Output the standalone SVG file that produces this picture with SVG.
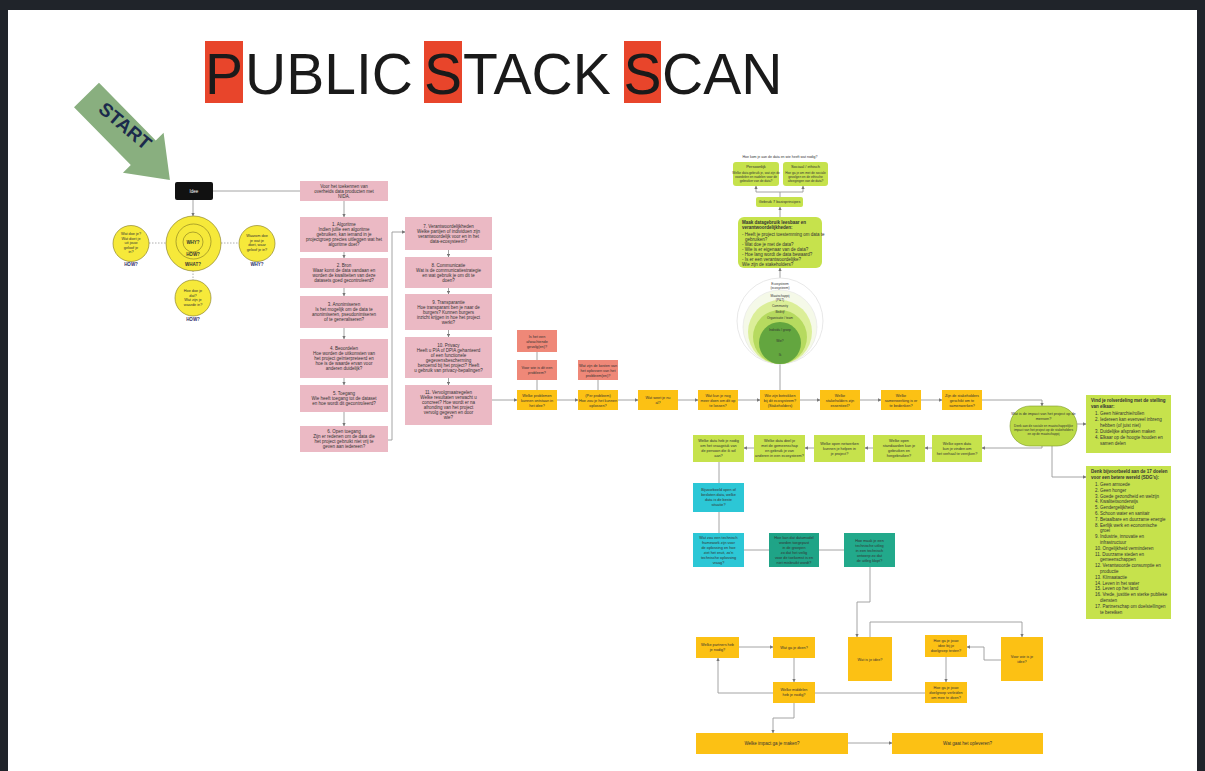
<svg xmlns="http://www.w3.org/2000/svg" width="1205" height="771" viewBox="0 0 1205 771">
<style>
.t{font-family:"Liberation Sans",Arial,sans-serif;font-size:4.5px;fill:#333;text-anchor:middle}
.sm{font-size:3.8px}
.s{text-anchor:start}
.b{font-weight:bold}
.pk{fill:#ebb9c4}
.sal{fill:#ef8878}
.yl{fill:#fcc114}
.gr{fill:#c6e24c}
.cy{fill:#2cc7d6}
.tl{fill:#1fa487}
.c{stroke:#9a9a9a;stroke-width:0.9;fill:none}
.ca{stroke:#9a9a9a;stroke-width:0.9;fill:none;marker-end:url(#a)}
.d{stroke:#999;stroke-width:0.8;fill:none;stroke-dasharray:1.5 1.5}
.yc{fill:#f6e93a;stroke:#7d7620;stroke-width:0.6}
.title{font-family:"Liberation Sans",Arial,sans-serif;font-size:57px;fill:#1a1a1a}
.lbl{font-family:"Liberation Sans",Arial,sans-serif;font-size:4.5px;fill:#2b2b6b;text-anchor:middle;font-weight:bold}
</style>
<defs>
<marker id="a" viewBox="0 0 6 6" refX="5.5" refY="3" markerWidth="4" markerHeight="4" orient="auto"><path d="M0,0 L6,3 L0,6z" fill="#777"/></marker>
</defs>
<rect width="1205" height="771" fill="#fff"/>
<rect x="0" y="0" width="1205" height="10" fill="#20242a"/>
<rect x="0" y="0" width="8" height="771" fill="#20242a"/>
<rect x="1197" y="0" width="8" height="771" fill="#20242a"/>

<g id="title">
<rect x="205" y="41" width="38" height="62" fill="#e8452b"/>
<rect x="424" y="41" width="38" height="62" fill="#e8452b"/>
<rect x="624" y="41" width="37" height="62" fill="#e8452b"/>
<text class="title" x="224" y="94" text-anchor="middle">P</text>
<text class="title" x="245" y="94">UBLIC</text>
<text class="title" x="443" y="94" text-anchor="middle">S</text>
<text class="title" x="463" y="94">TACK</text>
<text class="title" x="642.5" y="94" text-anchor="middle">S</text>
<text class="title" x="662" y="94">CAN</text>
</g>

<g id="start">
<path transform="translate(86.5,95) rotate(45.5)" d="M0,-17.5 H81 V-28.5 L119,0 L81,28.5 V17.5 H0 Z" fill="#89af7f"/>
<text transform="translate(121,131) rotate(40)" font-family="Liberation Sans,Arial,sans-serif" font-size="19" font-weight="bold" fill="#1b2a4c" text-anchor="middle">START</text>
</g>

<g id="connectors">
<path class="c" d="M213,191 H300"/>
<path class="ca" d="M193,200 V216"/>
<path class="d" d="M149,243 H166"/>
<path class="d" d="M221,243 H239"/>
<path class="d" d="M193,270.5 V280"/>
<path class="ca" d="M344,201 V217"/>
<path class="ca" d="M344,252 V258"/>
<path class="ca" d="M344,288 V296"/>
<path class="ca" d="M344,328 V339"/>
<path class="ca" d="M344,378 V385"/>
<path class="ca" d="M344,412 V426"/>
<path class="ca" d="M388,440 H392 V232 H405"/>
<path class="ca" d="M448.5,250 V257"/>
<path class="ca" d="M448.5,288 V294"/>
<path class="ca" d="M448.5,330 V337"/>
<path class="ca" d="M448.5,378 V385"/>
<path class="ca" d="M492,400 H517"/>
<path class="ca" d="M557,400 H578"/>
<path class="ca" d="M618,400 H638"/>
<path class="ca" d="M678,400 H698"/>
<path class="ca" d="M738,400 H760"/>
<path class="ca" d="M800,400 H820"/>
<path class="ca" d="M860,400 H881"/>
<path class="ca" d="M921,400 H942"/>
<path class="ca" d="M982,400 H1042 V406"/>
<path class="c" d="M537,390 V380"/>
<path class="c" d="M537,360 V352"/>
<path class="c" d="M598,390 V380"/>
<path class="c" d="M780,390 V364"/>
<path class="ca" d="M780,278 V268"/>
<path class="ca" d="M780,217 V207"/>
<path class="c" d="M780,197 V192 M756,192 H803"/>
<path class="ca" d="M756,192 V186"/>
<path class="ca" d="M803,192 V186"/>
<path class="ca" d="M1077,424 H1086"/>
<path class="ca" d="M1052,446 V477 H1086"/>
<path class="ca" d="M1042,446 V448 H982"/>
<path class="ca" d="M932,448 H925"/>
<path class="ca" d="M873,448 H865"/>
<path class="ca" d="M814,448 H805"/>
<path class="ca" d="M754,448 H744"/>
<path class="c" d="M719,462 V483"/>
<path class="c" d="M719,512 V533"/>
<path class="c" d="M744,550 H769"/>
<path class="c" d="M819,550 H844"/>
<path class="ca" d="M870,567 V602 H857 V637"/>
<path class="ca" d="M870,637 V622 H1022 V637"/>
<path class="ca" d="M1001,660 H984 V647 H967"/>
<path class="ca" d="M946,657 V682"/>
<path class="ca" d="M739,647 H773"/>
<path class="ca" d="M794,658 V682"/>
<path class="ca" d="M773,693 H718 V658"/>
<path class="c" d="M925,693 H815"/>
<path class="ca" d="M794,703 V718 H773 V733"/>
<path class="ca" d="M848,743 H892"/>
</g>

<g id="idee">
<rect x="175" y="182" width="38" height="18" rx="2" fill="#111"/>
<text class="t" x="194" y="192.5" style="fill:#fff">Idee</text>
</g>

<g id="golden-circle">
<circle class="yc" cx="193.5" cy="243.5" r="27.5"/>
<circle class="yc" cx="193.5" cy="241.5" r="17.5"/>
<circle class="yc" cx="193" cy="242" r="10"/>
<text class="t b" x="193" y="244">WHY?</text>
<text class="t b" x="193" y="256">HOW?</text>
<text class="t b" x="193" y="266">WHAT?</text>
</g>
<g id="circle-left">
<circle class="yc" cx="131" cy="243.5" r="18"/>
<text class="t sm"><tspan x="131" y="235">Wat doe je?</tspan><tspan x="131" dy="4.5">Wat doet je</tspan><tspan x="131" dy="4.5">uit jouw</tspan><tspan x="131" dy="4.5">geloof je</tspan><tspan x="131" dy="4.5">in?</tspan></text>
<text class="lbl" x="131" y="266">HOW?</text>
</g>
<g id="circle-right">
<circle class="yc" cx="257" cy="243.5" r="18"/>
<text class="t sm"><tspan x="257" y="237">Waarom doe</tspan><tspan x="257" dy="4.5">je wat je</tspan><tspan x="257" dy="4.5">doet, waar</tspan><tspan x="257" dy="4.5">geloof je in?</tspan></text>
<text class="lbl" x="257" y="266">WHY?</text>
</g>
<g id="circle-bottom">
<circle class="yc" cx="193" cy="298" r="18"/>
<text class="t sm"><tspan x="193" y="292">Hoe doe je</tspan><tspan x="193" dy="4.5">dat?</tspan><tspan x="193" dy="4.5">Wat zijn je</tspan><tspan x="193" dy="4.5">waarde in?</tspan></text>
<text class="lbl" x="193" y="321">HOW?</text>
</g>

<g id="p0"><rect class="pk" x="300" y="181" width="88" height="20"/>
<text class="t"><tspan x="344" y="187.5">Voor het toekennen van</tspan><tspan x="344" dy="5">overheids data producten met</tspan><tspan x="344" dy="5">NIDA.</tspan></text></g>
<g id="p1"><rect class="pk" x="300" y="217" width="88" height="35"/>
<text class="t"><tspan x="344" y="226">1. Algoritme</tspan><tspan x="344" dy="5">Indien jullie een algoritme</tspan><tspan x="344" dy="5">gebruiken, kan iemand in je</tspan><tspan x="344" dy="5">projectgroep precies uitleggen wat het</tspan><tspan x="344" dy="5">algoritme doet?</tspan></text></g>
<g id="p2"><rect class="pk" x="300" y="258" width="88" height="30"/>
<text class="t"><tspan x="344" y="267">2. Bron</tspan><tspan x="344" dy="5">Waar komt de data vandaan en</tspan><tspan x="344" dy="5">worden de kwaliteiten van deze</tspan><tspan x="344" dy="5">datasets goed gecontroleerd?</tspan></text></g>
<g id="p3"><rect class="pk" x="300" y="296" width="88" height="32"/>
<text class="t"><tspan x="344" y="306">3. Anonimiseren</tspan><tspan x="344" dy="5">Is het mogelijk om de data te</tspan><tspan x="344" dy="5">anonimiseren, pseudonimiseren</tspan><tspan x="344" dy="5">of te generaliseren?</tspan></text></g>
<g id="p4"><rect class="pk" x="300" y="339" width="88" height="39"/>
<text class="t"><tspan x="344" y="350">4. Beoordelen</tspan><tspan x="344" dy="5">Hoe worden de uitkomsten van</tspan><tspan x="344" dy="5">het project geïnterpreteerd en</tspan><tspan x="344" dy="5">hoe is de waarde ervan voor</tspan><tspan x="344" dy="5">anderen duidelijk?</tspan></text></g>
<g id="p5"><rect class="pk" x="300" y="385" width="88" height="27"/>
<text class="t"><tspan x="344" y="395">5. Toegang</tspan><tspan x="344" dy="5">Wie heeft toegang tot de dataset</tspan><tspan x="344" dy="5">en hoe wordt dit gecontroleerd?</tspan></text></g>
<g id="p6"><rect class="pk" x="300" y="426" width="88" height="26"/>
<text class="t"><tspan x="344" y="433">6. Open toegang</tspan><tspan x="344" dy="5">Zijn er redenen om de data die</tspan><tspan x="344" dy="5">het project gebruikt niet vrij te</tspan><tspan x="344" dy="5">geven aan iedereen?</tspan></text></g>

<g id="p7"><rect class="pk" x="405" y="217" width="87" height="33"/>
<text class="t"><tspan x="448.5" y="227.5">7. Verantwoordelijkheden</tspan><tspan x="448.5" dy="5">Welke partijen of individuen zijn</tspan><tspan x="448.5" dy="5">verantwoordelijk voor en in het</tspan><tspan x="448.5" dy="5">data-ecosysteem?</tspan></text></g>
<g id="p8"><rect class="pk" x="405" y="257" width="87" height="31"/>
<text class="t"><tspan x="448.5" y="266.5">8. Communicatie</tspan><tspan x="448.5" dy="5">Wat is de communicatiestrategie</tspan><tspan x="448.5" dy="5">en wat gebruik je om dit te</tspan><tspan x="448.5" dy="5">doen?</tspan></text></g>
<g id="p9"><rect class="pk" x="405" y="294" width="87" height="36"/>
<text class="t"><tspan x="448.5" y="303.5">9. Transparantie</tspan><tspan x="448.5" dy="5">Hoe transparant ben je naar de</tspan><tspan x="448.5" dy="5">burgers? Kunnen burgers</tspan><tspan x="448.5" dy="5">inzicht krijgen in hoe het project</tspan><tspan x="448.5" dy="5">werkt?</tspan></text></g>
<g id="p10"><rect class="pk" x="405" y="337" width="87" height="41"/>
<text class="t"><tspan x="448.5" y="346.5">10. Privacy</tspan><tspan x="448.5" dy="5">Heeft u PIA of DPIA gehanteerd</tspan><tspan x="448.5" dy="5">of een functionele</tspan><tspan x="448.5" dy="5">gegevensbescherming</tspan><tspan x="448.5" dy="5">benoemd bij het project? Heeft</tspan><tspan x="448.5" dy="5">u gebruik van privacy-bepalingen?</tspan></text></g>
<g id="p11"><rect class="pk" x="405" y="385" width="87" height="40"/>
<text class="t"><tspan x="448.5" y="394">11. Vervolgmaatregelen</tspan><tspan x="448.5" dy="5">Welke resultaten verwacht u</tspan><tspan x="448.5" dy="5">concreet? Hoe wordt er na</tspan><tspan x="448.5" dy="5">afronding van het project</tspan><tspan x="448.5" dy="5">vervolg gegeven en door</tspan><tspan x="448.5" dy="5">wie?</tspan></text></g>

<g id="s1"><rect class="sal" x="517" y="330" width="40" height="22"/>
<text class="t sm"><tspan x="537" y="337.5">Is het een</tspan><tspan x="537" dy="5">afwachtende</tspan><tspan x="537" dy="5">gevolg(en)?</tspan></text></g>
<g id="s2"><rect class="sal" x="517" y="360" width="40" height="20"/>
<text class="t sm"><tspan x="537" y="369">Voor wie is dit een</tspan><tspan x="537" dy="5">probleem?</tspan></text></g>
<g id="s3"><rect class="sal" x="578" y="360" width="40" height="20"/>
<text class="t sm"><tspan x="598" y="366.5">Wat zijn de kosten van</tspan><tspan x="598" dy="5">het oplossen van het</tspan><tspan x="598" dy="5">probleem(en)?</tspan></text></g>

<g id="y1"><rect class="yl" x="517" y="390" width="40" height="20"/>
<text class="t sm"><tspan x="537" y="396.5">Welke problemen</tspan><tspan x="537" dy="5">kunnen ontstaan in</tspan><tspan x="537" dy="5">het idee?</tspan></text></g>
<g id="y2"><rect class="yl" x="578" y="390" width="40" height="20"/>
<text class="t sm"><tspan x="598" y="396.5">(Per probleem)</tspan><tspan x="598" dy="5">Hoe zou je het kunnen</tspan><tspan x="598" dy="5">oplossen?</tspan></text></g>
<g id="y3"><rect class="yl" x="638" y="390" width="40" height="20"/>
<text class="t sm"><tspan x="658" y="399">Wat weet je nu</tspan><tspan x="658" dy="5">al?</tspan></text></g>
<g id="y4"><rect class="yl" x="698" y="390" width="40" height="20"/>
<text class="t sm"><tspan x="718" y="396.5">Wat kun je nog</tspan><tspan x="718" dy="5">meer doen om dit op</tspan><tspan x="718" dy="5">te lossen?</tspan></text></g>
<g id="y5"><rect class="yl" x="760" y="390" width="40" height="20"/>
<text class="t sm"><tspan x="780" y="396.5">Wie zijn betrokken</tspan><tspan x="780" dy="5">bij dit ecosysteem?</tspan><tspan x="780" dy="5">(Stakeholders)</tspan></text></g>
<g id="y6"><rect class="yl" x="820" y="390" width="40" height="20"/>
<text class="t sm"><tspan x="840" y="396.5">Welke</tspan><tspan x="840" dy="5">stakeholders zijn</tspan><tspan x="840" dy="5">essentieel?</tspan></text></g>
<g id="y7"><rect class="yl" x="881" y="390" width="40" height="20"/>
<text class="t sm"><tspan x="901" y="396.5">Welke</tspan><tspan x="901" dy="5">samenwerking is er</tspan><tspan x="901" dy="5">te bedenken?</tspan></text></g>
<g id="y8"><rect class="yl" x="942" y="390" width="40" height="20"/>
<text class="t sm"><tspan x="962" y="396.5">Zijn de stakeholders</tspan><tspan x="962" dy="5">geschikt om te</tspan><tspan x="962" dy="5">samenwerken?</tspan></text></g>

<g id="oval"><rect x="1010" y="406" width="67" height="40" rx="20" fill="#bcdb47" stroke="#7d9a2a" stroke-width="0.6"/>
<text class="t"><tspan x="1043.5" y="415" style="font-size:3.8px">Wat is de impact van het project op de</tspan><tspan x="1043.5" dy="5" style="font-size:3.8px">mensen?</tspan><tspan x="1043.5" dy="7" style="font-size:3.2px">Denk aan de sociale en maatschappelijke</tspan><tspan x="1043.5" dy="4" style="font-size:3.2px">impact van het project op de stakeholders</tspan><tspan x="1043.5" dy="4" style="font-size:3.2px">en op de maatschappij</tspan></text></g>

<g id="g-rol"><rect class="gr" x="1086" y="395" width="85" height="58"/>
<text class="t s"><tspan class="b" x="1091" y="402">Vind je rolverdeling met de stelling</tspan><tspan class="b" x="1091" dy="6">van elkaar:</tspan><tspan x="1095" dy="6.5">1. Geen hiërarchie/rollen</tspan><tspan x="1095" dy="6">2. Iedereen kan evenveel inbreng</tspan><tspan x="1100" dy="6">hebben (of juist niet)</tspan><tspan x="1095" dy="6">3. Duidelijke afspraken maken</tspan><tspan x="1095" dy="6">4. Elkaar op de hoogte houden en</tspan><tspan x="1100" dy="6">samen delen</tspan></text></g>

<g id="g-sdg"><rect class="gr" x="1086" y="466" width="85" height="153"/>
<text class="t s"><tspan class="b" x="1091" y="473">Denk bijvoorbeeld aan de 17 doelen</tspan><tspan class="b" x="1091" dy="6">voor een betere wereld (SDG's):</tspan>
<tspan x="1095" dy="7">1. Geen armoede</tspan>
<tspan x="1095" dy="5.8">2. Geen honger</tspan>
<tspan x="1095" dy="5.8">3. Goede gezondheid en welzijn</tspan>
<tspan x="1095" dy="5.8">4. Kwaliteitsonderwijs</tspan>
<tspan x="1095" dy="5.8">5. Gendergelijkheid</tspan>
<tspan x="1095" dy="5.8">6. Schoon water en sanitair</tspan>
<tspan x="1095" dy="5.8">7. Betaalbare en duurzame energie</tspan>
<tspan x="1095" dy="5.8">8. Eerlijk werk en economische</tspan>
<tspan x="1100" dy="5.8">groei</tspan>
<tspan x="1095" dy="5.8">9. Industrie, innovatie en</tspan>
<tspan x="1100" dy="5.8">infrastructuur</tspan>
<tspan x="1095" dy="5.8">10. Ongelijkheid verminderen</tspan>
<tspan x="1095" dy="5.8">11. Duurzame steden en</tspan>
<tspan x="1100" dy="5.8">gemeenschappen</tspan>
<tspan x="1095" dy="5.8">12. Verantwoorde consumptie en</tspan>
<tspan x="1100" dy="5.8">productie</tspan>
<tspan x="1095" dy="5.8">13. Klimaatactie</tspan>
<tspan x="1095" dy="5.8">14. Leven in het water</tspan>
<tspan x="1095" dy="5.8">15. Leven op het land</tspan>
<tspan x="1095" dy="5.8">16. Vrede, justitie en sterke publieke</tspan>
<tspan x="1100" dy="5.8">diensten</tspan>
<tspan x="1095" dy="5.8">17. Partnerschap om doelstellingen</tspan>
<tspan x="1100" dy="5.8">te bereiken</tspan></text></g>

<g id="top-title"><text class="t" x="780" y="158" style="font-size:3.5px">Hoe kom je aan de data en wie heeft wat nodig?</text></g>
<g id="g-pers"><rect class="gr" x="733" y="162" width="46" height="24" rx="3"/>
<text class="t"><tspan x="756" y="168" style="font-size:4px">Persoonlijk</tspan><tspan x="756" dy="5.5" style="font-size:3.2px">Welke data gebruik je, wat zijn de</tspan><tspan x="756" dy="4" style="font-size:3.2px">voordelen en nadelen voor de</tspan><tspan x="756" dy="4" style="font-size:3.2px">gebruiker van de data?</tspan></text></g>
<g id="g-zak"><rect class="gr" x="783" y="162" width="45" height="24" rx="3"/>
<text class="t"><tspan x="805.5" y="168" style="font-size:4px">Sociaal / ethisch</tspan><tspan x="805.5" dy="5.5" style="font-size:3.2px">Hoe ga je om met de sociale</tspan><tspan x="805.5" dy="4" style="font-size:3.2px">gevolgen en de ethische</tspan><tspan x="805.5" dy="4" style="font-size:3.2px">afwegingen van de data?</tspan></text></g>
<g id="g-gebruik"><rect class="gr" x="756" y="197" width="47" height="10" rx="2"/>
<text class="t sm" x="779.5" y="203.3">Gebruik 7 basisprincipes</text></g>
<g id="g-maak"><rect class="gr" x="738" y="217" width="84" height="51" rx="6"/>
<text class="t s"><tspan class="b" x="742" y="224">Maak datagebruik leesbaar en</tspan><tspan class="b" x="742" dy="5">verantwoordelijkheden:</tspan><tspan x="742" dy="7">- Heeft je project toestemming om data te</tspan><tspan x="745" dy="5">gebruiken?</tspan><tspan x="742" dy="5">- Wat doe je met de data?</tspan><tspan x="742" dy="5">- Wie is er eigenaar van de data?</tspan><tspan x="742" dy="5">- Hoe lang wordt de data bewaard?</tspan><tspan x="742" dy="5">- Is er een verantwoordelijke?</tspan><tspan x="742" dy="5">Wie zijn de stakeholders?</tspan></text></g>

<g id="ecosystem-circles">
<circle cx="780" cy="321" r="43" fill="#fff" stroke="#e2e2e2" stroke-width="0.8"/>
<circle cx="780" cy="327" r="37" fill="#f5f9e8" stroke="#e4e4e4" stroke-width="0.6"/>
<circle cx="780" cy="332" r="32" fill="#dbee98"/>
<circle cx="780" cy="337" r="27" fill="#b6da5f"/>
<circle cx="780" cy="343" r="21" fill="#63a63f"/>
<text class="t" style="font-size:3.2px"><tspan x="780" y="285">Ecosysteem</tspan><tspan x="780" dy="3.5">(ecosysteem)</tspan><tspan x="780" y="297">Maatschappij</tspan><tspan x="780" dy="3.5">(P&amp;T)</tspan><tspan x="780" y="307">Community</tspan><tspan x="780" y="313">Bedrijf</tspan><tspan x="780" y="318.5">Organisatie / team</tspan><tspan x="780" y="331">Individu / groep</tspan><tspan x="780" y="342">Wie?</tspan><tspan x="780" y="356">Ik</tspan></text>
</g>

<g id="r-a"><rect class="gr" x="693" y="435" width="51" height="27"/>
<text class="t sm"><tspan x="718.5" y="442">Welke data heb je nodig</tspan><tspan x="718.5" dy="5">om het vraagstuk van</tspan><tspan x="718.5" dy="5">de persoon die ik wil</tspan><tspan x="718.5" dy="5">aan?</tspan></text></g>
<g id="r-b"><rect class="gr" x="754" y="435" width="51" height="27"/>
<text class="t sm"><tspan x="779.5" y="442">Welke data deel je</tspan><tspan x="779.5" dy="5">met de gemeenschap</tspan><tspan x="779.5" dy="5">en gebruik je van</tspan><tspan x="779.5" dy="5">anderen in een ecosysteem?</tspan></text></g>
<g id="r-c"><rect class="gr" x="814" y="435" width="51" height="27"/>
<text class="t sm"><tspan x="839.5" y="444.5">Welke open netwerken</tspan><tspan x="839.5" dy="5">kunnen je helpen in</tspan><tspan x="839.5" dy="5">je project?</tspan></text></g>
<g id="r-d"><rect class="gr" x="873" y="435" width="52" height="27"/>
<text class="t sm"><tspan x="899" y="442">Welke open</tspan><tspan x="899" dy="5">standaarden kan je</tspan><tspan x="899" dy="5">gebruiken en</tspan><tspan x="899" dy="5">hergebruiken?</tspan></text></g>
<g id="r-e"><rect class="gr" x="932" y="435" width="50" height="27"/>
<text class="t sm"><tspan x="957" y="444.5">Welke open data</tspan><tspan x="957" dy="5">kun je vinden om</tspan><tspan x="957" dy="5">het verhaal te verrijken?</tspan></text></g>

<g id="t1"><rect class="cy" x="693" y="483" width="51" height="29"/>
<text class="t sm"><tspan x="718.5" y="491">Bijvoorbeeld open of</tspan><tspan x="718.5" dy="5">besloten data, welke</tspan><tspan x="718.5" dy="5">data is de beste</tspan><tspan x="718.5" dy="5">situatie?</tspan></text></g>
<g id="t2"><rect class="cy" x="693" y="533" width="51" height="34"/>
<text class="t sm"><tspan x="718.5" y="539">Wat zou een technisch</tspan><tspan x="718.5" dy="5">framework zijn voor</tspan><tspan x="718.5" dy="5">de oplossing en hoe</tspan><tspan x="718.5" dy="5">ziet het eruit, zo'n</tspan><tspan x="718.5" dy="5">technische oplossing</tspan><tspan x="718.5" dy="5">vraag?</tspan></text></g>
<g id="t3"><rect class="tl" x="769" y="533" width="50" height="34"/>
<text class="t sm"><tspan x="794" y="539">Hoe kan dat datamodel</tspan><tspan x="794" dy="5">worden toegepast</tspan><tspan x="794" dy="5">in de groepen</tspan><tspan x="794" dy="5">zo dat het veilig</tspan><tspan x="794" dy="5">voor de toekomst is en</tspan><tspan x="794" dy="5">niet misbruikt wordt?</tspan></text></g>
<g id="t4"><rect x="844" y="533" width="51" height="34" fill="#22a98b"/>
<text class="t sm"><tspan x="869.5" y="541.5">Hoe maak je een</tspan><tspan x="869.5" dy="5">technische uitleg</tspan><tspan x="869.5" dy="5">in een technisch</tspan><tspan x="869.5" dy="5">ontwerp zo dat</tspan><tspan x="869.5" dy="5">de uitleg klopt?</tspan></text></g>

<g id="b-idee"><rect class="yl" x="848" y="637" width="44" height="44"/>
<text class="t sm" x="870" y="660.5">Wat is je idee?</text></g>
<g id="b-voorwie"><rect class="yl" x="1001" y="637" width="42" height="44"/>
<text class="t sm"><tspan x="1022" y="658">Voor wie is je</tspan><tspan x="1022" dy="5">idee?</tspan></text></g>
<g id="b-testen"><rect class="yl" x="925" y="635" width="42" height="22"/>
<text class="t sm"><tspan x="946" y="642">Hoe ga je jouw</tspan><tspan x="946" dy="5">idee bij je</tspan><tspan x="946" dy="5">doelgroep testen?</tspan></text></g>
<g id="b-verleiden"><rect class="yl" x="925" y="682" width="42" height="21"/>
<text class="t sm"><tspan x="946" y="688.5">Hoe ga je jouw</tspan><tspan x="946" dy="5">doelgroep verleiden</tspan><tspan x="946" dy="5">om mee te doen?</tspan></text></g>
<g id="b-partners"><rect class="yl" x="696" y="637" width="43" height="21"/>
<text class="t sm"><tspan x="717.5" y="646">Welke partners heb</tspan><tspan x="717.5" dy="5">je nodig?</tspan></text></g>
<g id="b-doen"><rect class="yl" x="773" y="637" width="42" height="21"/>
<text class="t sm" x="794" y="649">Wat ga je doen?</text></g>
<g id="b-middelen"><rect class="yl" x="773" y="682" width="42" height="21"/>
<text class="t sm"><tspan x="794" y="691">Welke middelen</tspan><tspan x="794" dy="5">heb je nodig?</tspan></text></g>
<g id="b-impact"><rect class="yl" x="696" y="733" width="152" height="21"/>
<text class="t" x="772" y="745">Welke impact ga je maken?</text></g>
<g id="b-opleveren"><rect class="yl" x="892" y="733" width="151" height="21"/>
<text class="t" x="967.5" y="745">Wat gaat het opleveren?</text></g>
</svg>
